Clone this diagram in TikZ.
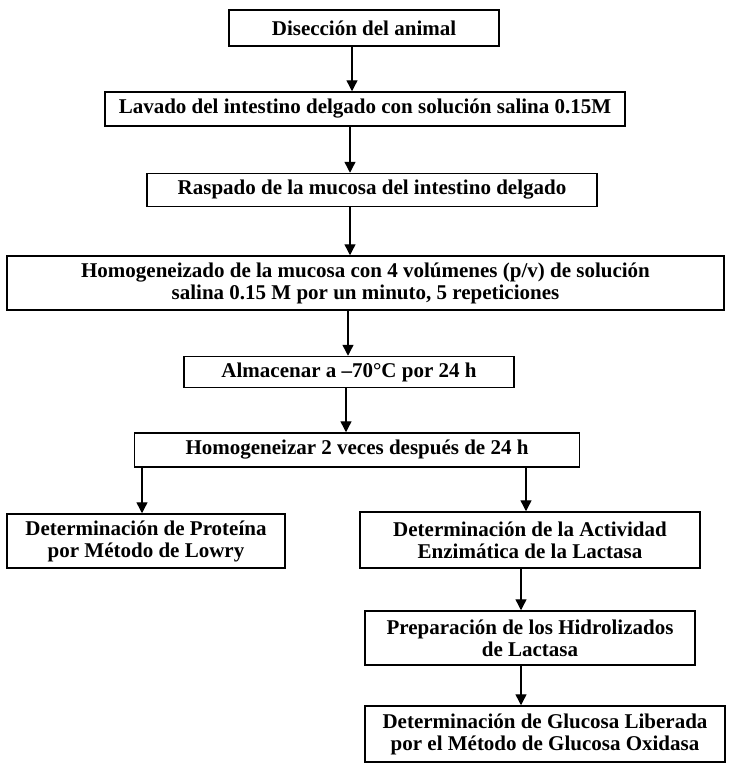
\documentclass[tikz,border=0pt]{standalone}
\usepackage{fontspec}
\setmainfont{Liberation Serif}
\usetikzlibrary{arrows.meta}
\begin{document}
\begin{tikzpicture}[x=1pt,y=-1pt,
    stepbox/.style={draw, line width=1.5pt, align=center, inner sep=0pt,
      font=\fontsize{21}{22}\selectfont\bfseries},
    arr/.style={line width=1.4pt, -{Triangle[width=11pt,length=11pt]}}]
  \useasboundingbox (0,0) rectangle (733,766);
  % Steps of the procedure
  \node[stepbox, minimum width=270pt, minimum height=36pt] (diseccion) at (364,28) {Disección del animal};
  \node[stepbox, minimum width=520pt, minimum height=34pt] (lavado) at (365,109) {Lavado del intestino delgado con solución salina 0.15M};
  \node[stepbox, minimum width=450pt, minimum height=33pt] (raspado) at (372,190) {Raspado de la mucosa del intestino delgado};
  \node[stepbox, minimum width=717pt, minimum height=54pt] (homog) at (365.5,283) {Homogeneizado de la mucosa con 4 volúmenes (p/v) de solución\\salina 0.15 M por un minuto, 5 repeticiones};
  \node[stepbox, minimum width=330pt, minimum height=31pt] (almacenar) at (349,372) {Almacenar a –70°C por 24 h};
  \node[stepbox, minimum width=445pt, minimum height=34pt] (homogdos) at (357,450) {Homogeneizar 2 veces después de 24 h};
  % Two branches
  \node[stepbox, minimum width=278pt, minimum height=54pt] (proteina) at (146,541) {Determinación de Proteína\\por Método de Lowry};
  \node[stepbox, minimum width=340pt, minimum height=56pt] (actividad) at (530,540) {Determinación de la Actividad\\Enzimática de la Lactasa};
  \node[stepbox, minimum width=330pt, minimum height=54pt] (hidrolizados) at (530,638) {Preparación de los Hidrolizados\\de Lactasa};
  \node[stepbox, minimum width=360pt, minimum height=56pt] (glucosa) at (545,734) {Determinación de Glucosa Liberada\\por el Método de Glucosa Oxidasa};
  % Arrows
  \draw[arr] (352,0 |- diseccion.south) -- (352,0 |- lavado.north);
  \draw[arr] (350,0 |- lavado.south) -- (350,0 |- raspado.north);
  \draw[arr] (350,0 |- raspado.south) -- (350,0 |- homog.north);
  \draw[arr] (348,0 |- homog.south) -- (348,0 |- almacenar.north);
  \draw[arr] (346,0 |- almacenar.south) -- (346,0 |- homogdos.north);
  \draw[arr] (142,0 |- homogdos.south) -- (142,0 |- proteina.north);
  \draw[arr] (526,0 |- homogdos.south) -- (526,0 |- actividad.north);
  \draw[arr] (521,0 |- actividad.south) -- (521,0 |- hidrolizados.north);
  \draw[arr] (521,0 |- hidrolizados.south) -- (521,0 |- glucosa.north);
\end{tikzpicture}
\end{document}
